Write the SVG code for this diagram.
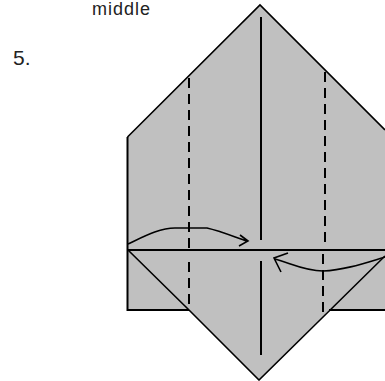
<svg xmlns="http://www.w3.org/2000/svg" width="385" height="381" viewBox="0 0 385 381">
<style>
.t{font-family:"Liberation Sans",Arial,sans-serif;fill:#222}
.l{fill:none;stroke:#000;stroke-width:2}
.h{fill:none;stroke:#000;stroke-width:1.6}
.d{fill:none;stroke:#000;stroke-width:2;stroke-dasharray:10 6}
</style>
<rect width="385" height="381" fill="#fff"/>
<g id="paper">
<path d="M127.5 137L260 5L385 130V310H329L259 380L189 310H127.5Z" fill="#c0c0c0"/>
<path class="h" d="M127.5 137L260 5L385 130M189 310L259 380L385 256M128 250L189 310"/>
<path class="l" d="M127.5 137V310H189M329 310H385M127 250H385"/>
</g>
<g id="folds">
<path class="l" d="M261 17V240M261 261V355"/>
<path class="d" d="M189 78V250M189 262V310M325 72V245M323 254V312"/>
</g>
<g id="connectors">
<path class="h" d="M128 244C145 236 160 228 175 228L207 228C220 231 235 237 247 241M240 235L248 241L239 246"/>
<path class="h" d="M385 257C365 263 345 270 323 271C305 271 290 263 275 259M288 253L274 258L281 272"/>
</g>
<g id="label-middle"><text class="t" x="92" y="15" font-size="18" textLength="58" lengthAdjust="spacing">middle</text></g>
<g id="label-5"><text class="t" x="13" y="65" font-size="21">5.</text></g>
</svg>
